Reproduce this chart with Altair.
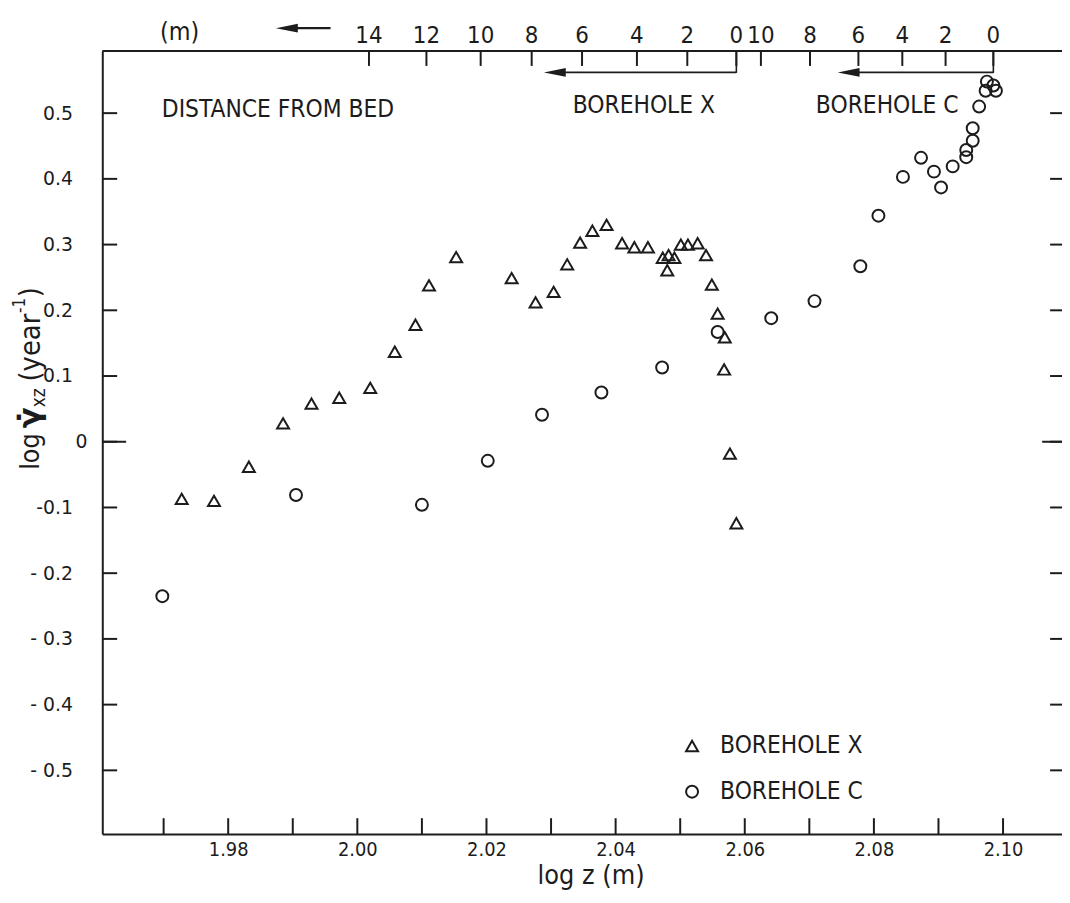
import altair as alt
import pandas as pd

# ---------------- data ----------------
# Borehole X (triangles): log z (m) and log strain rate (year^-1)
bx_logz = [1.9728, 1.9778, 1.9832, 1.9885, 1.9929, 1.9972, 2.0020, 2.0058, 2.0090, 2.0111,
           2.0153, 2.0239, 2.0276, 2.0304, 2.0325, 2.0345, 2.0364, 2.0386, 2.0410, 2.0429,
           2.0450, 2.0473, 2.0482, 2.0491, 2.0480, 2.0501, 2.0512, 2.0527, 2.0540, 2.0549,
           2.0558, 2.0569, 2.0568, 2.0577, 2.0587]
bx_rate = [-0.087, -0.090, -0.038, 0.028, 0.058, 0.067, 0.082, 0.137, 0.178, 0.238,
           0.281, 0.249, 0.212, 0.228, 0.270, 0.303, 0.321, 0.330, 0.302, 0.296,
           0.296, 0.280, 0.284, 0.280, 0.261, 0.300, 0.300, 0.302, 0.284, 0.239,
           0.195, 0.159, 0.110, -0.018, -0.124]

# Borehole C (circles)
bc_logz = [1.9698, 1.9905, 2.0100, 2.0202, 2.0286, 2.0378, 2.0472, 2.0558, 2.0641, 2.0708,
           2.0779, 2.0807, 2.0845, 2.0873, 2.0893, 2.0904, 2.0922, 2.0943, 2.0943, 2.0953,
           2.0953, 2.0963, 2.0973, 2.0975, 2.0985, 2.0989]
bc_rate = [-0.235, -0.081, -0.096, -0.029, 0.041, 0.075, 0.113, 0.167, 0.188, 0.214,
           0.267, 0.344, 0.403, 0.432, 0.411, 0.387, 0.419, 0.433, 0.444, 0.458,
           0.477, 0.510, 0.534, 0.548, 0.542, 0.534]

series_names = ["BOREHOLE X", "BOREHOLE C"]

# bottom axis ticks / labels
x_tick_values = [1.97, 1.98, 1.99, 2.00, 2.01, 2.02, 2.03, 2.04, 2.05, 2.06, 2.07, 2.08, 2.09, 2.10]
x_label_values = [1.98, 2.00, 2.02, 2.04, 2.06, 2.08, 2.10]
# left/right axis ticks
y_tick_values = [-0.5, -0.4, -0.3, -0.2, -0.1, 0.0, 0.1, 0.2, 0.3, 0.4, 0.5]

# top "distance from bed" scales (m) and where they fall on the log z axis
top_x_dist = [14, 12, 10, 8, 6, 4, 2, 0]
top_x_logz = [2.0018, 2.0107, 2.0191, 2.0270, 2.0348, 2.0433, 2.0511, 2.0587]
top_c_dist = [10, 8, 6, 4, 2, 0]
top_c_logz = [2.0625, 2.0701, 2.0776, 2.0844, 2.0911, 2.0985]

# ---------------- chart ----------------
INK = "#1c1c1c"
NARROW = "DejaVu Sans Condensed, Liberation Sans Narrow, sans-serif"
ROUND = "DejaVu Sans, sans-serif"
W, H = 967, 789

pts_df = pd.DataFrame({
    "logz": bx_logz + bc_logz,
    "rate": bx_rate + bc_rate,
    "series": [series_names[0]] * len(bx_logz) + [series_names[1]] * len(bc_logz),
})
xt_df = pd.DataFrame({"v": x_tick_values})
yt_df = pd.DataFrame({"v": y_tick_values})
topx_df = pd.DataFrame({"logz": top_x_logz, "dist": top_x_dist})
topc_df = pd.DataFrame({"logz": top_c_logz, "dist": top_c_dist})

xs = alt.Scale(domain=[1.9605, 2.10913], nice=False, zero=False)
ys = alt.Scale(domain=[-0.597, 0.5945], nice=False, zero=False)

# the "0" label is drawn separately (it sits closer to the frame in the original)
y_label_expr = ("datum.value == 0 ? '' : (datum.value < 0 ? "
                "(abs(datum.value + 0.1) < 0.001 ? '-0.1' : '- ' + format(-datum.value, '.1f')) "
                ": format(datum.value, '.1f'))")

points = alt.Chart(pts_df).mark_point(filled=False, strokeWidth=2, color=INK, opacity=1, size=145).encode(
    x=alt.X("logz:Q", scale=xs, axis=alt.Axis(
        values=x_label_values, format=".2f", ticks=False, grid=False,
        domain=True, domainColor=INK, domainWidth=2,
        labelFont=NARROW, labelFontSize=20, labelColor=INK, labelPadding=6,
        title="log z (m)", titleFont=NARROW, titleFontSize=27, titleFontWeight="normal",
        titleColor=INK, titlePadding=3, titleX=492)),
    y=alt.Y("rate:Q", scale=ys, axis=alt.Axis(
        values=y_tick_values, labelExpr=y_label_expr, ticks=False, grid=False,
        domain=True, domainColor=INK, domainWidth=2,
        labelFont=ROUND, labelFontSize=19, labelColor=INK, labelPadding=30,
        title=None)),
    shape=alt.Shape("series:N", scale=alt.Scale(domain=series_names, range=["triangle-up", "circle"]),
                    legend=alt.Legend(orient="none", legendX=582, legendY=688, title=None,
                                      labelFont=NARROW, labelFontSize=24.5, labelColor=INK,
                                      symbolSize=145, symbolStrokeWidth=2, symbolStrokeColor=INK,
                                      rowPadding=21, labelOffset=16, padding=0)),
)

zero_label = alt.Chart(yt_df).transform_filter("datum.v == 0").mark_text(
    font=ROUND, fontSize=19, color=INK, align="center", baseline="middle").encode(
    y=alt.Y("v:Q", scale=ys), x=alt.value(-21), text=alt.Text("v:Q", format="d"))

# inward ticks
bottom_ticks = alt.Chart(xt_df).mark_rule(color=INK, strokeWidth=2).encode(
    x=alt.X("v:Q", scale=xs), y=alt.value(H), y2=alt.value(H - 16))
left_ticks = alt.Chart(yt_df).mark_rule(color=INK, strokeWidth=2).encode(
    y=alt.Y("v:Q", scale=ys), x=alt.value(0), x2=alt.value(15))
right_ticks = alt.Chart(yt_df).mark_rule(color=INK, strokeWidth=2).encode(
    y=alt.Y("v:Q", scale=ys), x=alt.value(W), x2=alt.value(W - 12))
zero_left = alt.Chart(yt_df).transform_filter("datum.v == 0").mark_rule(color=INK, strokeWidth=2).encode(
    y=alt.Y("v:Q", scale=ys), x=alt.value(0), x2=alt.value(24))
zero_right = alt.Chart(yt_df).transform_filter("datum.v == 0").mark_rule(color=INK, strokeWidth=2).encode(
    y=alt.Y("v:Q", scale=ys), x=alt.value(W), x2=alt.value(W - 20))

top_line = alt.Chart(xt_df).transform_filter("datum.v == 2.0").mark_rule(color=INK, strokeWidth=2).encode(
    x=alt.value(0), x2=alt.value(W), y=alt.value(0))

HEAD = "M -1 0 L 1 -0.4 L 1 0.4 Z"


def top_scale(df, arrow_end, head_center):
    ticks = alt.Chart(df).mark_rule(color=INK, strokeWidth=2).encode(
        x=alt.X("logz:Q", scale=xs), y=alt.value(0), y2=alt.value(15))
    labels = alt.Chart(df).mark_text(font=NARROW, fontSize=24, color=INK, baseline="middle").encode(
        x=alt.X("logz:Q", scale=xs), y=alt.value(-15.5), text="dist:N")
    vert = alt.Chart(df).transform_filter("datum.dist == 0").mark_rule(color=INK, strokeWidth=1.6).encode(
        x=alt.X("logz:Q", scale=xs), y=alt.value(0), y2=alt.value(22))
    horiz = alt.Chart(df).transform_filter("datum.dist == 0").mark_rule(color=INK, strokeWidth=1.6).encode(
        x=alt.X("logz:Q", scale=xs), x2=alt.value(arrow_end), y=alt.value(21.5))
    head = alt.Chart(df).transform_filter("datum.dist == 0").mark_point(
        shape=HEAD, size=484, filled=True, color=INK, opacity=1).encode(
        x=alt.value(head_center), y=alt.value(21.5))
    return [ticks, labels, vert, horiz, head]


def label(text, x, y, size, font=NARROW, angle=0, align="left", weight="normal"):
    return alt.Chart(pd.DataFrame({"t": [text]})).mark_text(
        font=font, fontSize=size, angle=angle, align=align, baseline="middle",
        fontWeight=weight, color=INK).encode(x=alt.value(x), y=alt.value(y), text="t:N")


m_arrow_line = alt.Chart(xt_df).transform_filter("datum.v == 2.0").mark_rule(color=INK, strokeWidth=2.2).encode(
    x=alt.value(190), x2=alt.value(230), y=alt.value(-23))
m_arrow_head = alt.Chart(xt_df).transform_filter("datum.v == 2.0").mark_point(
    shape=HEAD, size=484, filled=True, color=INK, opacity=1).encode(
    x=alt.value(186), y=alt.value(-23))

annotations = [
    label("(m)", 78, -19, 25, align="center"),
    label("DISTANCE FROM BED", 60, 59, 24.5),
    label("BOREHOLE X", 474, 55, 24.5),
    label("BOREHOLE C", 719, 55, 24.5),
    # rotated y-axis title: log  γ̇_xz (year^-1)
    label("log", -72, 422, 27, angle=270),
    label("γ\u0307", -72, 380, 31, font=ROUND, angle=270, weight="bold"),
    label("xz", -64, 359, 19, angle=270),
    label("(year", -72, 333, 29, angle=270),
    label("-1", -83, 264, 17, angle=270),
    label(")", -72, 248, 29, angle=270),
]

layers = ([points, zero_label, bottom_ticks, left_ticks, right_ticks, zero_left, zero_right, top_line,
           m_arrow_line, m_arrow_head]
          + top_scale(topx_df, 457, 456)
          + top_scale(topc_df, 752, 752)
          + annotations)

chart = alt.layer(*layers).properties(
    width=W, height=H,
    autosize=alt.AutoSizeParams(type="none"),
    padding={"left": 95, "top": 40, "right": 0, "bottom": 58},
    background="white",
).configure_view(stroke=None)

chart.save("out.html", embed_options={"renderer": "svg", "actions": False})
